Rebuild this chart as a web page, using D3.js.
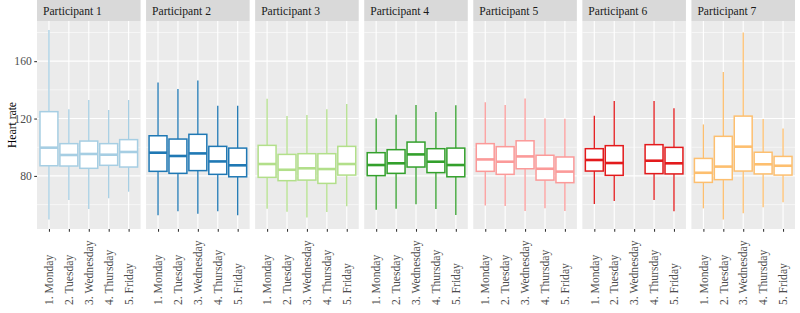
<!DOCTYPE html>
<html>
<head>
<meta charset="utf-8">
<script src="https://cdn.jsdelivr.net/npm/d3@7"></script>
<style>
  html, body { margin: 0; padding: 0; background: #fff; }
  svg { display: block; }
  svg text { font-family: "Liberation Serif", "Times New Roman", "DejaVu Serif", serif !important; }
</style>
</head>
<body>
<svg id="chart" width="800" height="313"></svg>
<script>
// ---------------- data ----------------
const participants = ["Participant 1","Participant 2","Participant 3","Participant 4","Participant 5","Participant 6","Participant 7"];
const days = ["1. Monday","2. Tuesday","3. Wednesday","4. Thursday","5. Friday"];
const colors = ["#A6CEE3","#1F78B4","#B2DF8A","#33A02C","#FB9A99","#E31A1C","#FDBF6F"];
const yMajorTicks = [80, 120, 160];
const yMinorTicks = [60, 100, 140, 180];
const yTitle = "Heart rate";

// per participant (rows) and day (columns); null = no data
const whiskerLow = [
  [49.7, 63.2, 56.9, 64.4, 69.0],
  [52.5, 55.3, 53.7, 55.3, 52.5],
  [57.2, 55.1, 51.1, 54.8, 58.8],
  [56.5, 57.2, 60.2, 56.9, 52.8],
  [59.3, 59.0, 55.5, 57.4, 55.5],
  [60.4, 62.5, null, 63.2, 55.3],
  [57.4, 49.7, 53.9, 58.1, 61.6]
];
const q1 = [
  [87.1, 86.9, 85.3, 87.4, 86.2],
  [83.2, 81.8, 83.7, 81.1, 79.4],
  [79.0, 76.7, 77.1, 74.8, 80.6],
  [80.2, 81.8, 86.2, 82.3, 79.4],
  [83.2, 81.1, 85.0, 77.1, 75.3],
  [83.4, 80.4, null, 81.6, 81.4],
  [75.5, 77.4, 83.4, 81.4, 80.6]
];
const median = [
  [99.7, 94.6, 95.3, 94.8, 96.7],
  [96.2, 93.9, 95.7, 90.1, 87.4],
  [88.3, 84.3, 85.3, 84.8, 88.3],
  [87.6, 88.8, 95.0, 89.9, 87.6],
  [91.5, 89.9, 93.6, 85.0, 83.0],
  [91.1, 89.0, null, 90.6, 88.8],
  [82.2, 86.5, 100.4, 88.1, 87.1]
];
const q3 = [
  [124.8, 102.5, 104.3, 102.5, 105.3],
  [108.0, 105.7, 109.0, 100.6, 99.4],
  [101.3, 95.0, 95.5, 95.5, 100.6],
  [96.2, 98.3, 103.6, 99.0, 99.4],
  [102.5, 100.4, 104.5, 94.4, 93.2],
  [99.0, 101.1, null, 101.8, 99.9],
  [92.2, 107.6, 121.7, 96.5, 93.6]
];
const whiskerHigh = [
  [181.7, 126.4, 132.9, 125.9, 132.9],
  [145.2, 140.6, 146.6, 128.9, 128.9],
  [133.8, 121.7, 122.4, 126.4, 130.1],
  [120.1, 122.7, 129.4, 124.5, 129.2],
  [131.3, 129.4, 134.0, 120.1, 119.9],
  [122.0, 132.2, null, 132.2, 127.1],
  [115.9, 152.4, 180.0, 119.7, 113.1]
];

// ---------------- layout ----------------
const FONT = '"Liberation Serif", "Times New Roman", "DejaVu Serif", serif';
const svg = d3.select("#chart");
const plotLeft = 37, plotRight = 795, gap = 5.5;
const stripTop = 0, stripH = 21;
const panelTop = 21, panelBottom = 229;
const nP = participants.length;
const panelW = (plotRight - plotLeft - gap * (nP - 1)) / nP;

const y = d3.scaleLinear().domain([43, 188]).range([panelBottom, panelTop]);

const fontSize = 11.6;

participants.forEach((name, p) => {
  const x0 = plotLeft + p * (panelW + gap);
  const x = d3.scalePoint().domain(days).range([x0, x0 + panelW]).padding(0.6);
  const step = x.step();
  const boxW = step * 0.9;
  const g = svg.append("g");

  // panel background
  g.append("rect").attr("x", x0).attr("y", panelTop).attr("width", panelW)
    .attr("height", panelBottom - panelTop).attr("fill", "#EBEBEB");

  // minor gridlines
  g.selectAll(".minor").data(yMinorTicks).join("line")
    .attr("x1", x0).attr("x2", x0 + panelW)
    .attr("y1", d => y(d)).attr("y2", d => y(d))
    .attr("stroke", "#fff").attr("stroke-width", 0.55);
  // major gridlines
  g.selectAll(".major").data(yMajorTicks).join("line")
    .attr("x1", x0).attr("x2", x0 + panelW)
    .attr("y1", d => y(d)).attr("y2", d => y(d))
    .attr("stroke", "#fff").attr("stroke-width", 1.1);
  g.selectAll(".vmajor").data(days).join("line")
    .attr("x1", d => x(d)).attr("x2", d => x(d))
    .attr("y1", panelTop).attr("y2", panelBottom)
    .attr("stroke", "#fff").attr("stroke-width", 1.1);

  // strip
  g.append("rect").attr("x", x0).attr("y", stripTop).attr("width", panelW)
    .attr("height", stripH).attr("fill", "#D9D9D9");
  g.append("text").attr("x", x0 + 6).attr("y", stripTop + stripH / 2)
    .attr("dy", "0.36em").attr("font-size", fontSize).attr("fill", "#1A1A1A")
    .style("font-family", FONT)
    .text(name);

  // boxes
  const col = colors[p];
  const rows = days.map((d, i) => ({
    day: d, lo: whiskerLow[p][i], q1: q1[p][i], med: median[p][i], q3: q3[p][i], hi: whiskerHigh[p][i]
  })).filter(r => r.med !== null);

  const b = g.selectAll(".box").data(rows).join("g");
  b.append("line")
    .attr("x1", r => x(r.day)).attr("x2", r => x(r.day))
    .attr("y1", r => y(r.hi)).attr("y2", r => y(r.q3))
    .attr("stroke", col).attr("stroke-width", 1.3);
  b.append("line")
    .attr("x1", r => x(r.day)).attr("x2", r => x(r.day))
    .attr("y1", r => y(r.q1)).attr("y2", r => y(r.lo))
    .attr("stroke", col).attr("stroke-width", 1.3);
  b.append("rect")
    .attr("x", r => x(r.day) - boxW / 2).attr("width", boxW)
    .attr("y", r => y(r.q3)).attr("height", r => y(r.q1) - y(r.q3))
    .attr("fill", "#fff").attr("stroke", col).attr("stroke-width", 1.5);
  b.append("line")
    .attr("x1", r => x(r.day) - boxW / 2).attr("x2", r => x(r.day) + boxW / 2)
    .attr("y1", r => y(r.med)).attr("y2", r => y(r.med))
    .attr("stroke", col).attr("stroke-width", 2.6);

  // x axis
  const xa = g.append("g").attr("transform", `translate(0,${panelBottom})`)
    .call(d3.axisBottom(x).tickSize(2.75).tickPadding(0));
  xa.attr("font-family", null).attr("font-size", null);
  xa.select(".domain").remove();
  xa.selectAll(".tick line").attr("stroke", "#333333").attr("stroke-width", 1.07);
  xa.selectAll(".tick text")
    .style("font-family", FONT)
    .attr("font-size", fontSize).attr("fill", "#4D4D4D")
    .attr("text-anchor", "start")
    .attr("transform", `translate(0,${305 - panelBottom}) rotate(-90)`)
    .attr("x", 0).attr("y", 0).attr("dy", "0.32em");

  // y axis only on first panel
  if (p === 0) {
    const ya = g.append("g").attr("transform", `translate(${x0},0)`)
      .call(d3.axisLeft(y).tickValues(yMajorTicks).tickSize(2.75).tickPadding(2.5));
    ya.attr("font-family", null).attr("font-size", null);
    ya.select(".domain").remove();
    ya.selectAll(".tick line").attr("stroke", "#333333").attr("stroke-width", 1.07);
    ya.selectAll(".tick text")
      .style("font-family", FONT)
      .attr("font-size", fontSize).attr("fill", "#4D4D4D");
  }
});

// y axis title
svg.append("text")
  .attr("transform", `translate(12,${(panelTop + panelBottom) / 2}) rotate(-90)`)
  .attr("text-anchor", "middle").attr("dy", "0.35em")
  .style("font-family", FONT)
  .attr("font-size", fontSize).attr("fill", "#000")
  .text(yTitle);
</script>
</body>
</html>
